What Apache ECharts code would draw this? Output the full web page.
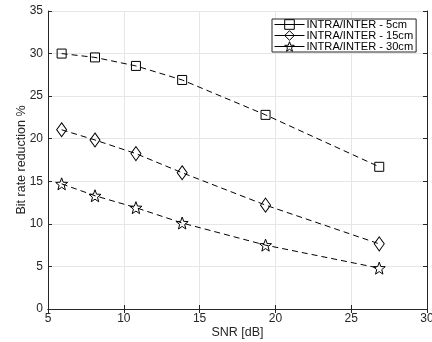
<!DOCTYPE html>
<html>
<head>
<meta charset="utf-8">
<script src="https://cdn.jsdelivr.net/npm/echarts@6/dist/echarts.min.js"></script>
<style>
  html, body { margin: 0; padding: 0; background: #fff; }
  #chart { width: 432px; height: 342px; }
</style>
</head>
<body>
<div id="chart"></div>
<script>
// data
const snr = [5.9, 8.1, 10.8, 13.85, 19.35, 26.85];
const dist5 = [30.0, 29.55, 28.55, 26.9, 22.8, 16.7];
const dist15 = [21.05, 19.85, 18.25, 16.0, 12.2, 7.65];
const dist30 = [14.7, 13.3, 11.9, 10.1, 7.5, 4.8];
const seriesNames = ['INTRA/INTER - 5cm', 'INTRA/INTER - 15cm', 'INTRA/INTER - 30cm'];
const xTicks = [5, 10, 15, 20, 25, 30];
const yTicks = [0, 5, 10, 15, 20, 25, 30, 35];

// five-pointed star outline for the 30cm markers
function starPath() {
  let d = '';
  for (let i = 0; i < 10; i++) {
    const r = i % 2 === 0 ? 1 : 0.42;
    const a = -Math.PI / 2 + i * Math.PI / 5;
    d += (i === 0 ? 'M' : 'L') + (r * Math.cos(a)).toFixed(3) + ',' + (r * Math.sin(a)).toFixed(3);
  }
  return 'path://' + d + 'Z';
}

const axisColor = '#262626';
const font = 'Liberation Sans, Arial, sans-serif';
const fs = 12;

function pairs(ys) {
  return snr.map((x, i) => [x, ys[i]]);
}

function lineSeries(name, ys, symbol, size) {
  return {
    name: name,
    type: 'line',
    data: pairs(ys),
    symbol: symbol,
    symbolSize: size,
    showSymbol: true,
    animation: false,
    lineStyle: { color: '#000', width: 1, type: [6, 4] },
    itemStyle: { color: 'none', borderColor: '#000', borderWidth: 1 }
  };
}

const chart = echarts.init(document.getElementById('chart'));

const axisCommon = {
  type: 'value',
  axisLine: { show: true, lineStyle: { color: axisColor, width: 1 } },
  axisTick: { show: true, inside: true, length: 4, lineStyle: { color: axisColor } }
};

chart.setOption({
  animation: false,
  textStyle: { fontFamily: font },
  grid: { left: 48, right: 5, top: 11, bottom: 33, outerBoundsMode: 'none', containLabel: false },
  legend: {
    orient: 'vertical',
    left: 272,
    top: 19,
    padding: [0, 3, 0, 2],
    itemGap: 0,
    itemWidth: 30,
    itemHeight: 12,
    backgroundColor: '#fff',
    borderColor: axisColor,
    borderWidth: 1,
    lineStyle: { color: '#000', width: 1, type: 'solid' },
    itemStyle: { color: 'transparent', borderColor: '#000', borderWidth: 1 },
    textStyle: { fontSize: 11.1, color: '#000', fontFamily: font, padding: [0, 0, 0, -3] },
    data: seriesNames
  },
  xAxis: [
    Object.assign({}, axisCommon, {
      min: xTicks[0], max: xTicks[xTicks.length - 1], interval: 5,
      name: 'SNR [dB]',
      nameLocation: 'middle',
      nameGap: 17,
      nameMoveOverlap: false,
      nameTextStyle: { fontSize: 12.5, color: axisColor },
      axisLabel: { fontSize: fs, color: axisColor, margin: 4 },
      splitLine: { show: true, lineStyle: { color: '#e6e6e6', width: 1 } }
    }),
    Object.assign({}, axisCommon, {
      position: 'top',
      min: xTicks[0], max: xTicks[xTicks.length - 1], interval: 5,
      axisLabel: { show: false },
      splitLine: { show: false }
    })
  ],
  yAxis: [
    Object.assign({}, axisCommon, {
      min: yTicks[0], max: yTicks[yTicks.length - 1], interval: 5,
      name: 'Bit rate reduction %',
      nameLocation: 'middle',
      nameGap: 20,
      nameMoveOverlap: false,
      nameTextStyle: { fontSize: 12.5, color: axisColor },
      axisLabel: { fontSize: fs, color: axisColor, margin: 5 },
      splitLine: { show: true, lineStyle: { color: '#e6e6e6', width: 1 } }
    }),
    Object.assign({}, axisCommon, {
      position: 'right',
      min: yTicks[0], max: yTicks[yTicks.length - 1], interval: 5,
      axisLabel: { show: false },
      splitLine: { show: false }
    })
  ],
  series: [
    lineSeries(seriesNames[0], dist5, 'rect', 9),
    lineSeries(seriesNames[1], dist15, 'diamond', [10, 14]),
    lineSeries(seriesNames[2], dist30, starPath(), 12)
  ]
});
</script>
</body>
</html>
